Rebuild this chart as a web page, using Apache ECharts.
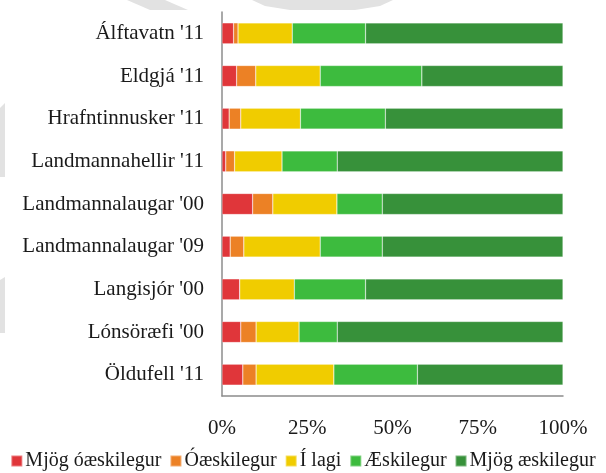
<!DOCTYPE html>
<html>
<head>
<meta charset="utf-8">
<script src="https://cdn.jsdelivr.net/npm/echarts@6/dist/echarts.min.js"></script>
<style>
  html, body { margin: 0; padding: 0; background: #fff; }
  #chart { width: 606px; height: 473px; }
</style>
</head>
<body>
<div id="chart"></div>
<script>
// staðir (efst til neðst)
var places = ["Álftavatn '11", "Eldgjá '11", "Hrafntinnusker '11", "Landmannahellir '11",
  "Landmannalaugar '00", "Landmannalaugar '09", "Langisjór '00", "Lónsöræfi '00", "Öldufell '11"];

var mjogOaeskilegur = [3.4, 4.3, 2.1, 1.1, 9.0, 2.4, 5.2, 5.5, 6.1];
var oaeskilegur     = [1.3, 5.6, 3.4, 2.6, 5.9, 4.0, 0.0, 4.5, 3.9];
var iLagi           = [15.9, 18.9, 17.5, 13.9, 18.8, 22.4, 16.0, 12.6, 22.8];
var aeskilegur      = [21.5, 29.8, 24.9, 16.2, 13.3, 18.2, 20.9, 11.2, 24.5];
var mjogAeskilegur  = [57.9, 41.4, 52.1, 66.2, 53.0, 53.0, 57.9, 66.2, 42.7];

var seriesNames = ['Mjög óæskilegur', 'Óæskilegur', 'Í lagi', 'Æskilegur', 'Mjög æskilegur'];
var colors = ['#E0363A', '#EC8125', '#F0CC00', '#3DBB3E', '#37913A'];
var ticks = [0, 25, 50, 75, 100];

var font = 'Liberation Serif';

var chart = echarts.init(document.getElementById('chart'), null, { renderer: 'canvas' });

var allData = [mjogOaeskilegur, oaeskilegur, iLagi, aeskilegur, mjogAeskilegur];
var series = allData.map(function (d, i) {
  return {
    name: seriesNames[i],
    type: 'bar',
    stack: 'total',
    barWidth: 21,
    data: d,
    itemStyle: { color: colors[i], borderColor: 'rgba(255,255,255,0.35)', borderWidth: 0.6 }
  };
});

var option = {
  animation: false,
  color: colors,
  textStyle: { fontFamily: font },
  graphic: [
    // ljósgrá vatnsmerki í bakgrunni
    { type: 'polygon', z: -10, shape: { points: [[127, 0], [165, 0], [188, 10], [150, 10]] }, style: { fill: '#e2e2e2' } },
    { type: 'polygon', z: -10, shape: { points: [[252, 0], [393, 0], [380, 6], [355, 10], [290, 10], [265, 6]] }, style: { fill: '#e2e2e2' } },
    { type: 'polygon', z: -10, shape: { points: [[0, 108], [5, 103], [5, 177], [0, 177]] }, style: { fill: '#e2e2e2' } },
    { type: 'polygon', z: -10, shape: { points: [[0, 280], [5, 277], [5, 333], [0, 333]] }, style: { fill: '#e2e2e2' } }
  ],
  legend: {
    data: seriesNames,
    bottom: -3,
    left: 'center',
    icon: 'rect',
    itemWidth: 11,
    itemHeight: 11,
    itemGap: 8,
    textStyle: { fontFamily: font, fontSize: 20, color: '#1a1a1a', padding: [0, 0, 0, -2] }
  },
  grid: { left: 222, right: 43, top: 12, bottom: 77 },
  xAxis: {
    type: 'value',
    min: 0,
    max: 100,
    interval: 25,
    axisLine: { show: true, lineStyle: { color: '#8c8c8c', width: 1.5 } },
    axisTick: { show: false },
    splitLine: { show: false },
    axisLabel: {
      margin: 22,
      fontFamily: font,
      fontSize: 21,
      color: '#1a1a1a',
      formatter: function (v) { return ticks.indexOf(v) >= 0 ? v + '%' : ''; }
    }
  },
  yAxis: {
    type: 'category',
    inverse: true,
    data: places,
    axisLine: { show: true, lineStyle: { color: '#8c8c8c', width: 1.5 } },
    axisTick: { show: false },
    axisLabel: { margin: 18, fontFamily: font, fontSize: 21, color: '#1a1a1a' }
  },
  series: series
};

chart.setOption(option);
</script>
</body>
</html>
